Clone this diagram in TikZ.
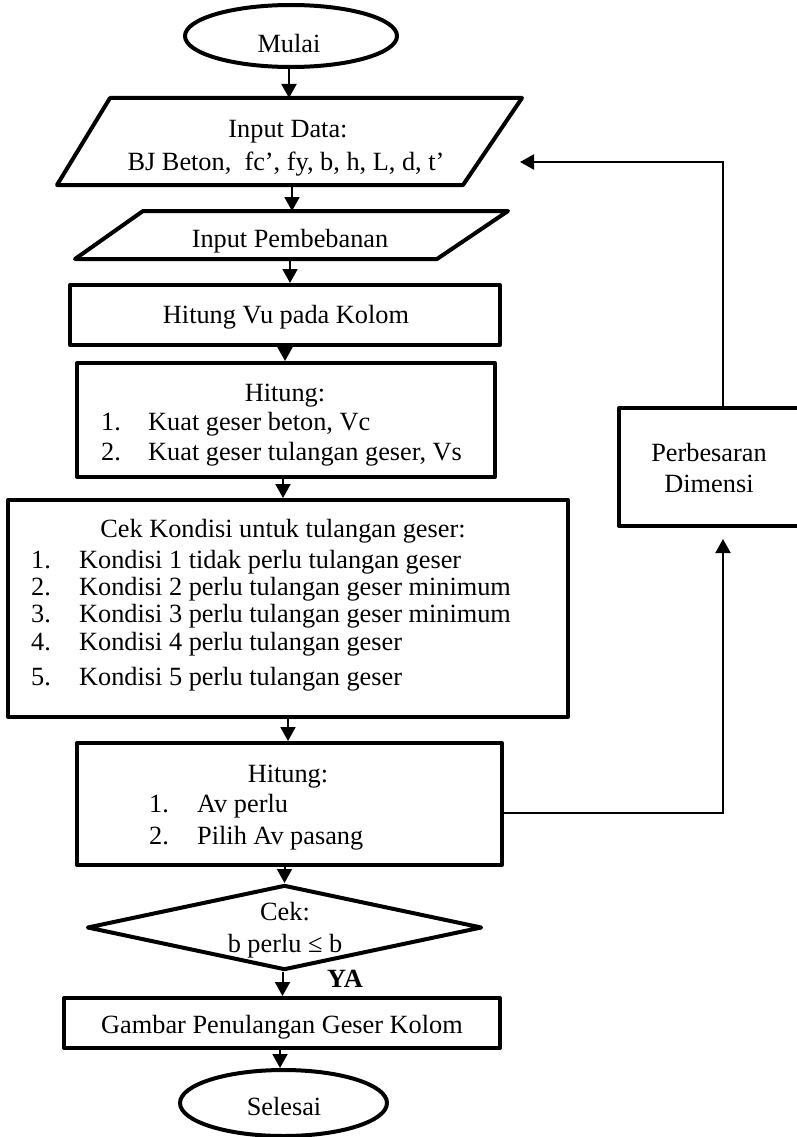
\documentclass[tikz,border=0pt]{standalone}
\usepackage{fontspec}
\setmainfont{Liberation Serif}
\usetikzlibrary{shapes.geometric,arrows.meta}

\begin{document}
\begin{tikzpicture}[x=1pt,y=-1pt,
  shapebox/.style={draw, line width=4pt, line join=round, inner sep=0pt},
  flowbox/.style={shapebox, rectangle},
  terminal/.style={shapebox, ellipse},
  conn/.style={line width=2pt, -{Triangle[width=15pt,length=14pt]}},
  lbl/.style={inner sep=0pt, anchor=base, font=\fontsize{26.3}{30}\selectfont},
  itemtxt/.style={lbl, anchor=base west}]

\useasboundingbox (0,0) rectangle (796,1137);

% start terminal
\node[terminal, minimum width=212pt, minimum height=62pt] (mulai) at (291,36) {};
\node[lbl] (tmulai) at (289,53) {Mulai};

% input data (parallelogram)
\draw[line width=4pt, line join=round] (110,98) -- (522,98) -- (463,185) -- (57,185) -- cycle;
\coordinate (in1n) at (289,98);
\coordinate (in1s) at (292,185);
\coordinate (in1e) at (520,162);
\node[lbl] (tin1a) at (288,138) {Input Data:};
\node[lbl] (tin1b) at (286,170) {BJ Beton,\ \ fc’, fy, b, h, L, d, t’};

% load input (parallelogram)
\draw[line width=4pt, line join=round] (143,211) -- (508,211) -- (437,259) -- (75,259) -- cycle;
\coordinate (in2n) at (292,211);
\coordinate (in2s) at (290,259);
\node[lbl] (tin2) at (290,247) {Input Pembebanan};

% Vu
\node[flowbox, minimum width=430pt, minimum height=60pt] (vu) at (285,315) {};
\node[lbl] (tvu) at (286,323) {Hitung Vu pada Kolom};

% shear strengths
\node[flowbox, minimum width=418pt, minimum height=114pt] (hit) at (286,420) {};
\node[lbl] (thit) at (285,401) {Hitung:};
\node[itemtxt] (thit1n) at (101,430) {1.};
\node[itemtxt] (thit1) at (148,430) {Kuat geser beton, Vc};
\node[itemtxt] (thit2n) at (101,460) {2.};
\node[itemtxt] (thit2) at (148,460) {Kuat geser tulangan geser, Vs};

% shear reinforcement conditions
\node[flowbox, minimum width=560pt, minimum height=217pt] (cek) at (288,608.5) {};
\node[lbl] (tcek) at (283,537) {Cek Kondisi untuk tulangan geser:};
\node[itemtxt] (tc1n) at (31,568) {1.};
\node[itemtxt] (tc1) at (79,568) {Kondisi 1 tidak perlu tulangan geser};
\node[itemtxt] (tc2n) at (31,595) {2.};
\node[itemtxt] (tc2) at (79,595) {Kondisi 2 perlu tulangan geser minimum};
\node[itemtxt] (tc3n) at (31,622) {3.};
\node[itemtxt] (tc3) at (79,622) {Kondisi 3 perlu tulangan geser minimum};
\node[itemtxt] (tc4n) at (31,650) {4.};
\node[itemtxt] (tc4) at (79,650) {Kondisi 4 perlu tulangan geser};
\node[itemtxt] (tc5n) at (31,685) {5.};
\node[itemtxt] (tc5) at (79,685) {Kondisi 5 perlu tulangan geser};

% Av
\node[flowbox, minimum width=425pt, minimum height=122pt] (av) at (289.5,804) {};
\node[lbl] (tav) at (288,782) {Hitung:};
\node[itemtxt] (tav1n) at (149,812) {1.};
\node[itemtxt] (tav1) at (197,812) {Av perlu};
\node[itemtxt] (tav2n) at (149,844) {2.};
\node[itemtxt] (tav2) at (197,844) {Pilih Av pasang};

% decision
\node[diamond, shapebox, minimum width=395pt, minimum height=85pt] (dec) at (284.5,927.5) {};
\node[lbl] (tdec1) at (285,920) {Cek:};
\node[lbl] (tdec2) at (285,952) {b perlu ≤ b};
\node[lbl, font=\fontsize{26.3}{30}\selectfont\bfseries] (tya) at (345,987) {YA};

% drawing
\node[flowbox, minimum width=436pt, minimum height=50pt] (gam) at (282,1023) {};
\node[lbl] (tgam) at (282,1033) {Gambar Penulangan Geser Kolom};

% end terminal
\node[terminal, minimum width=207pt, minimum height=66pt] (sel) at (283.5,1103) {};
\node[lbl] (tsel) at (284,1115) {Selesai};

% dimension enlargement
\node[flowbox, minimum width=181pt, minimum height=118pt] (per) at (709.5,467) {};
\node[lbl, align=center] (tper1) at (709,461) {Perbesaran};
\node[lbl] (tper2) at (709,492) {Dimensi};
\coordinate (fb) at (723,0);

% main flow
\draw[conn] (in1n |- mulai.south) -- (in1n);
\draw[conn] (in1s) -- (in1s |- in2n);
\draw[conn] (in2s) -- (in2s |- vu.north);
\draw[conn] (vu.south) -- (vu.south |- hit.north);
\draw[conn] ([xshift=-3pt]hit.south) -- ([xshift=-3pt]hit.south |- cek.north);
\draw[conn] (cek.south) -- (cek.south |- av.north);
\draw[conn] (dec.north |- av.south) -- (dec.north);
\draw[conn] ([xshift=-2pt]dec.south) -- ([xshift=-2pt]dec.south |- gam.north);
\draw[conn] ([xshift=-2pt]gam.south) -- ([xshift=-2pt]gam.south |- sel.north);

% feedback loop
\draw[conn] ([yshift=-9pt]av.east) -| ([yshift=-11pt]per.south -| fb);
\draw[conn] (per.north -| fb) |- (in1e);

\end{tikzpicture}
\end{document}
